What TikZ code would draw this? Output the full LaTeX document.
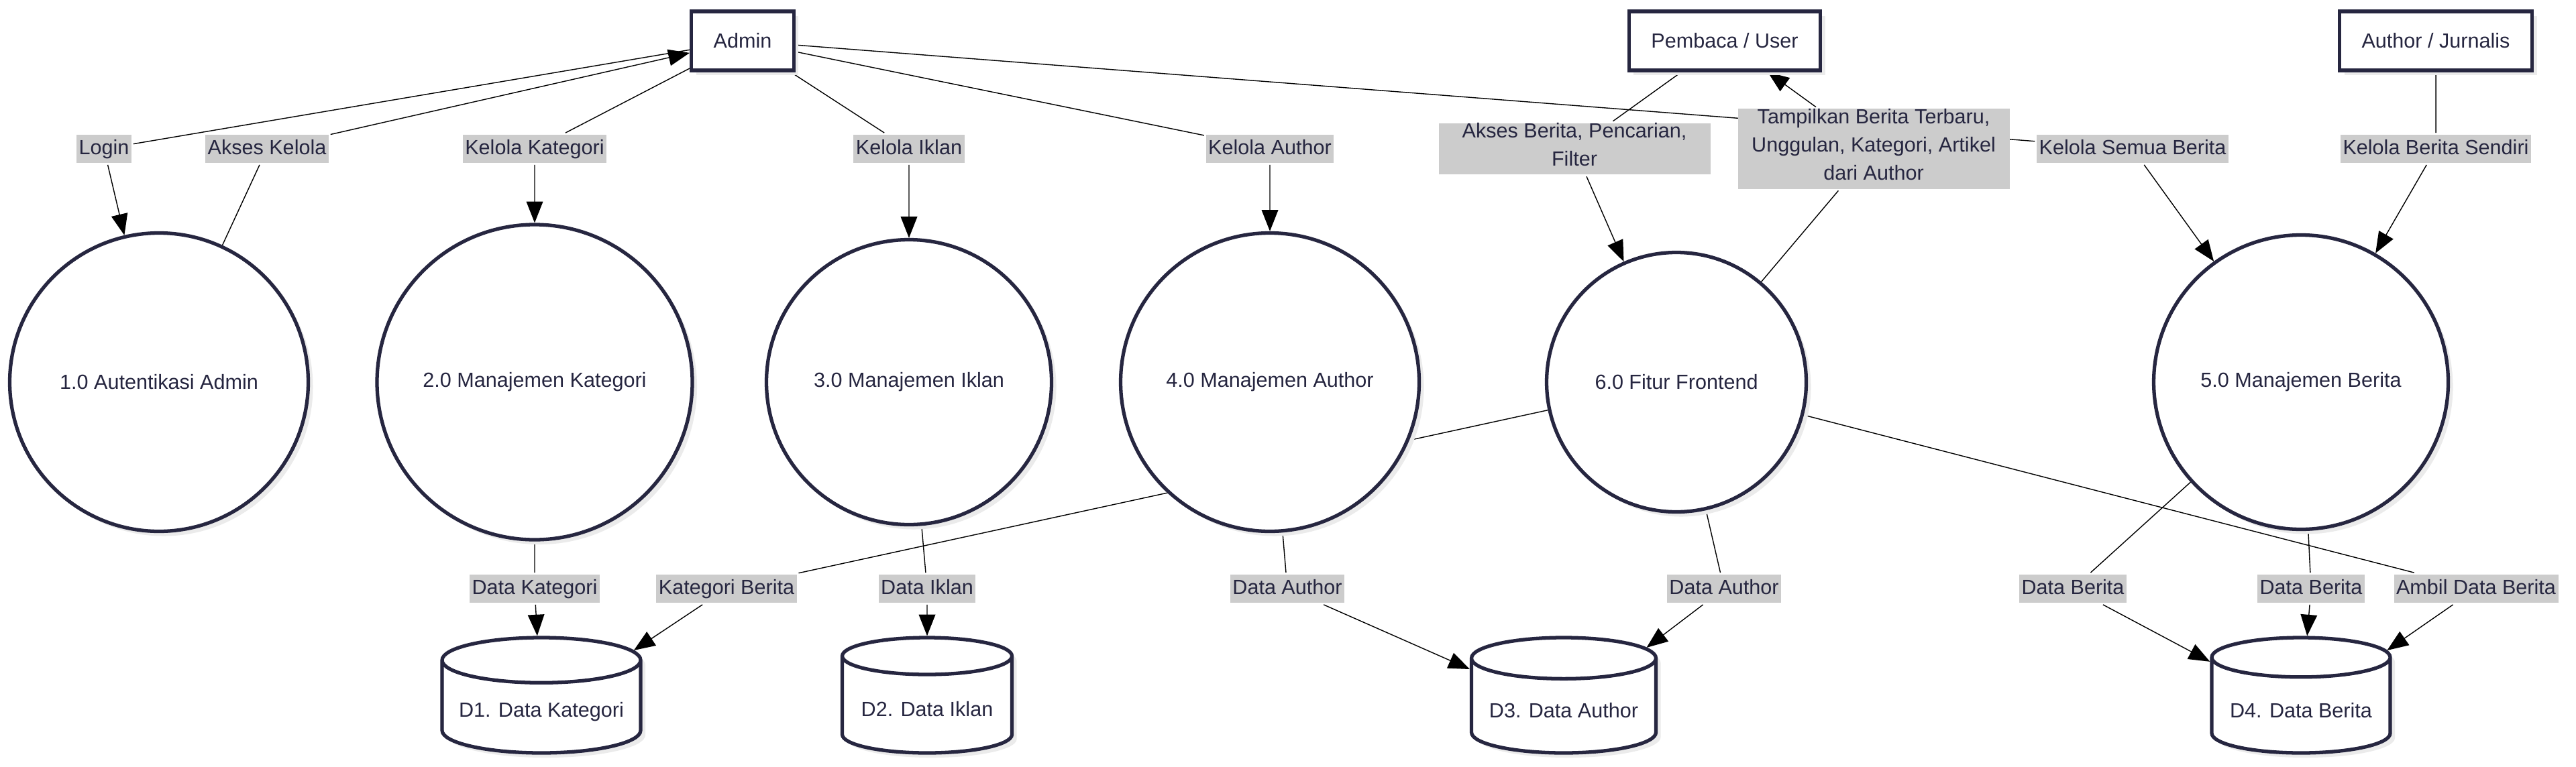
\documentclass[tikz,border=0pt]{standalone}
\usepackage{fontspec}
\setmainfont{Liberation Sans}
\usetikzlibrary{arrows.meta,shapes.geometric,shadows,backgrounds}
\definecolor{ink}{RGB}{38,38,64}
\definecolor{lblgray}{RGB}{204,204,204}

\begin{document}
\begin{tikzpicture}[>={Triangle[length=9pt,width=7pt]},line width=1.6pt,node distance=3.48cm,
    font=\fontsize{8.7}{12}\selectfont,
    ent/.style={rectangle,draw=ink,fill=white,text=ink,line width=1.5pt,minimum height=0.88cm,inner xsep=0.33cm,
        drop shadow={shadow xshift=2pt,shadow yshift=-2pt,fill=black!8,opacity=1}},
    proc/.style={circle,draw=ink,fill=white,text=ink,line width=1.5pt,inner sep=0pt,
        drop shadow={shadow xshift=2pt,shadow yshift=-2pt,fill=black!8,opacity=1}},
    store/.style={cylinder,shape border rotate=90,aspect=0.25,anchor=shape center,draw=ink,fill=white,text=ink,line width=1.5pt,minimum height=1.72cm,
        drop shadow={shadow xshift=2pt,shadow yshift=-2pt,fill=black!8,opacity=1}},
    lbl/.style={fill=lblgray,text=ink,inner xsep=1pt,inner ysep=0pt,align=center,
        execute at begin node=\strut,execute at end node=\strut},
    flow/.style={->,draw=black}]
    \useasboundingbox (0,0) rectangle (38.4,-11.43);

    % terminator
    \node[ent] (admin) at (11.07,-0.61) {Admin};
    \node[ent] (user) at (25.71,-0.61) {Pembaca / User};
    \node[ent] (jurnalis) at (36.31,-0.61) {Author / Jurnalis};

    % proses
    \node[proc, minimum size=4.45cm] (p1) at (2.37,-5.70) {1.0 Autentikasi Admin};
    \node[proc, minimum size=4.70cm] (p2) [node distance=5.60cm, right of=p1] {2.0 Manajemen Kategori};
    \node[proc, minimum size=4.25cm] (p3) [node distance=5.58cm, right of=p2] {3.0 Manajemen Iklan};
    \node[proc, minimum size=4.45cm] (p4) [node distance=5.38cm, right of=p3] {4.0 Manajemen Author};
    \node[proc, minimum size=3.87cm] (p6) [node distance=6.06cm, right of=p4] {6.0 Fitur Frontend};
    \node[proc, minimum size=4.39cm] (p5) [node distance=9.31cm, right of=p6] {5.0 Manajemen Berita};

    % data store
    \node[store, minimum width=2.96cm] (d1) at (8.07,-10.37) {D1. Data Kategori};
    \node[store, minimum width=2.53cm] (d2) at (13.82,-10.37) {D2. Data Iklan};
    \node[store, minimum width=2.75cm] (d3) at (23.31,-10.37) {D3. Data Author};
    \node[store, minimum width=2.66cm] (d4) [node distance=4.67cm, below of=p5, anchor=shape center] {D4. Data Berita};

    % label alur atas
    \node[lbl] (lLogin) at (1.55,-2.22) {Login};
    \node[lbl] (lAkses) at (3.98,-2.22) {Akses Kelola};
    \node[lbl] (lKat) [above of=p2] {Kelola Kategori};
    \node[lbl] (lIklan) [above of=p3] {Kelola Iklan};
    \node[lbl] (lAuthor) [above of=p4] {Kelola Author};
    \node[lbl, minimum width=4.05cm] (lBaca) at (23.47,-2.22) {Akses Berita, Pencarian,\\Filter};
    \node[lbl, minimum width=4.05cm] (lTampil) at (27.93,-2.22) {Tampilkan Berita Terbaru,\\Unggulan, Kategori, Artikel\\dari Author};
    \node[lbl] (lSemua) at (31.79,-2.22) {Kelola Semua Berita};
    \node[lbl] (lSendiri) at (36.31,-2.22) {Kelola Berita Sendiri};

    % label alur bawah
    \node[lbl] (lDKat) [node distance=3.08cm, below of=p2] {Data Kategori};
    \node[lbl] (lKatB) at (10.83,-8.78) {Kategori Berita};
    \node[lbl] (lDIklan) at (13.82,-8.78) {Data Iklan};
    \node[lbl] (lDAut1) at (19.19,-8.78) {Data Author};
    \node[lbl] (lDAut2) at (25.70,-8.78) {Data Author};
    \node[lbl] (lDBer1) at (30.90,-8.78) {Data Berita};
    \node[lbl] (lDBer2) at (34.45,-8.78) {Data Berita};
    \node[lbl] (lAmbil) at (36.91,-8.78) {Ambil Data Berita};

    \begin{pgfonlayer}{background}
        \fill[white] (0,0) rectangle (38.4,-11.43);
        \draw[flow] (admin) -- (lLogin) -- (p1);
        \draw[flow] (p1) -- (lAkses) -- (admin);
        \draw[flow] (admin) -- (lKat) -- (p2);
        \draw[flow] (admin) -- (lIklan) -- (p3);
        \draw[flow] (admin) -- (lAuthor) -- (p4);
        \draw[flow] (admin) -- (lSemua) -- (p5);
        \draw[flow] (user) -- (lBaca) -- (p6);
        \draw[flow] (p6) -- (lTampil) -- (user);
        \draw[flow] (jurnalis) -- (lSendiri) -- (p5);
        \draw[flow] (p2) -- (lDKat) -- (d1);
        \draw[flow] (p6) -- (lKatB) -- (d1);
        \draw[flow] (p3) -- (lDIklan) -- (d2);
        \draw[flow] (p4) -- (lDAut1) -- (d3);
        \draw[flow] (p6) -- (lDAut2) -- (d3);
        \draw[flow] (p5) -- (lDBer1) -- (d4);
        \draw[flow] (p5) -- (lDBer2) -- (d4);
        \draw[flow] (p6) -- (lAmbil) -- (d4);
    \end{pgfonlayer}
\end{tikzpicture}
\end{document}
